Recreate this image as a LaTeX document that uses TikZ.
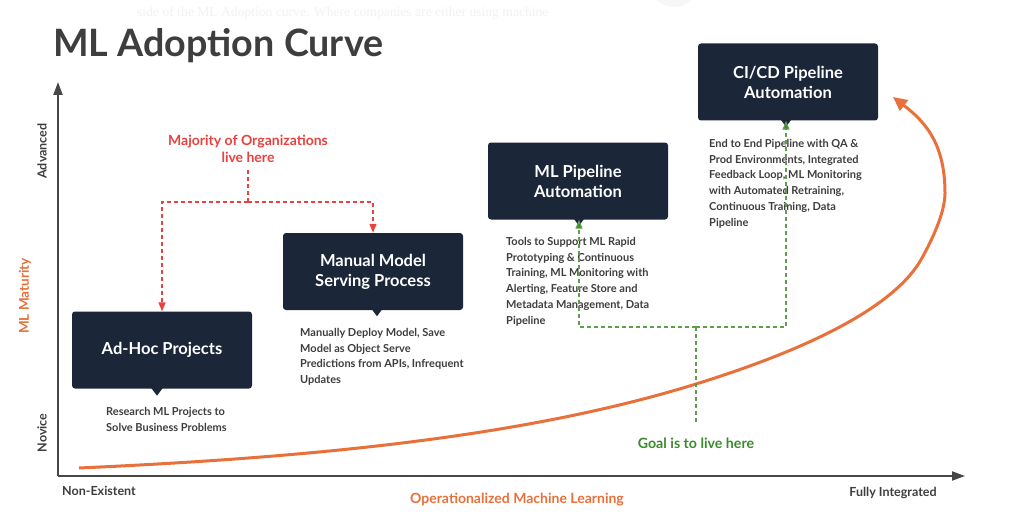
\documentclass[tikz,border=0pt]{standalone}
\usepackage{fontspec}
\setmainfont{Lato}
\newfontfamily\fadedserif{Liberation Serif}
\usetikzlibrary{arrows.meta}
\definecolor{navy}{HTML}{1B2638}
\definecolor{txtgray}{HTML}{3E3E3E}
\definecolor{axisgray}{HTML}{474747}
\definecolor{curveorange}{HTML}{E8703A}
\definecolor{redlbl}{HTML}{E8423F}
\definecolor{greenline}{HTML}{5E9E4E}
\definecolor{greentxt}{HTML}{3C8A2E}
\begin{document}
\begin{tikzpicture}[x=1pt,y=-1pt,
  stagebox/.style={fill=navy, rounded corners=3pt, minimum width=180pt, minimum height=77pt,
    text=white, font=\bfseries\fontsize{16.5}{20}\selectfont, align=center, inner sep=0pt},
  desc/.style={anchor=north west, inner sep=0pt, align=left, text=txtgray,
    font=\bfseries\fontsize{11}{15.8}\selectfont},
  axislbl/.style={inner sep=0pt, text=txtgray, font=\bfseries\fontsize{12.5}{15}\selectfont},
  orangelbl/.style={inner sep=0pt, text=curveorange, font=\bfseries\fontsize{14}{16}\selectfont},
  axisline/.style={draw=axisgray, line width=2pt, -{Triangle[length=13pt,width=9pt]}},
  reddash/.style={draw=redlbl, line width=1.2pt, dash pattern=on 4pt off 3pt},
  greendash/.style={draw=greenline, line width=1.2pt, dash pattern=on 4pt off 3pt},
  redtip/.style={-{Triangle[length=9pt,width=7pt]}},
  greentip/.style={-{Triangle[length=9pt,width=7pt,fill=greentxt]}},
  pointer/.style={fill=navy}
]
\useasboundingbox (0,0) rectangle (1022,516);
\fill[white] (0,0) rectangle (1022,516);

% faint artifacts at the top
\fill[black!3] (674,-18) circle (25);
\node[anchor=west, inner sep=0pt, text=black!5, font=\fadedserif\fontsize{13.6}{16}\selectfont] (faded) at (137,13)
  {side of the ML Adoption curve. Where companies are either using machine};

% title
\node[anchor=west, inner sep=0pt, text=txtgray, font=\bfseries\fontsize{37.7}{42}\selectfont] (title) at (53,46) {ML Adoption Curve};

% axes
\coordinate (origin) at (58,476);
\coordinate (ytop) at (58,82);
\coordinate (xend) at (965,476);
\draw[axisline] (origin) -- (ytop);
\draw[axisline] (origin) -- (xend);

\node[axislbl, rotate=90] (advanced) at (42,151) {Advanced};
\node[axislbl, rotate=90] (novice) at (42,433) {Novice};
\node[orangelbl, rotate=90, font=\bfseries\fontsize{13.5}{15}\selectfont] (maturity) at (25,296) {ML Maturity};
\node[axislbl, anchor=west] (nonex) at (62,491) {Non-Existent};
\node[axislbl] (fully) at (893,493) {Fully Integrated};
\node[orangelbl] (opml) at (517,500) {Operationalized Machine Learning};

% curve
\draw[curveorange, line width=3pt, -{Triangle[length=14pt,width=13pt]}]
  (79,468) .. controls (300,458) and (520,438.6) .. (696,384)
  .. controls (796,353) and (893.2,310.6) .. (922,258)
  .. controls (931.6,240.5) and (945,213) .. (945,193)
  .. controls (945,143) and (924.6,121.4) .. (893,97);

% stage boxes
\node[stagebox] (adhoc) at (162,350) {Ad-Hoc Projects};
\node[stagebox] (manual) at (373,271.5) {Manual Model\\Serving Process};
\node[stagebox] (mlp) at (578,181) {ML Pipeline\\Automation};
\node[stagebox] (cicd) at (788,82) {CI/CD Pipeline\\Automation};

\coordinate (adhoctip) at ([xshift=-5pt,yshift=-7pt]adhoc.south);
\coordinate (manualtip) at ([xshift=4pt,yshift=-6pt]manual.south);
\coordinate (mlptip) at ([xshift=1pt,yshift=-6pt]mlp.south);
\coordinate (cicdtip) at ([xshift=-2pt,yshift=-6pt]cicd.south);
\fill[pointer] (adhoctip) -- ++(-6,-8) -- ++(12,0) -- cycle;
\fill[pointer] (manualtip) -- ++(-6,-8) -- ++(12,0) -- cycle;
\fill[pointer] (mlptip) -- ++(-6,-8) -- ++(12,0) -- cycle;
\fill[pointer] (cicdtip) -- ++(-6,-8) -- ++(12,0) -- cycle;

% descriptions
\node[desc] (adhocdesc) at (106,407) {Research ML Projects to\\Solve Business Problems};
\node[desc] (manualdesc) at (300,328) {Manually Deploy Model, Save\\Model as Object Serve\\Predictions from APIs, Infrequent\\Updates};
\node[desc] (mlpdesc) at (506,237) {Tools to Support ML Rapid\\Prototyping \& Continuous\\Training, ML Monitoring with\\Alerting, Feature Store and\\Metadata Management, Data\\Pipeline};
\node[desc] (cicddesc) at (709,139) {End to End Pipeline with QA \&\\Prod Environments, Integrated\\Feedback Loop, ML Monitoring\\with Automated Retraining,\\Continuous Training, Data\\Pipeline};

% red callout
\node[align=center, inner sep=0pt, text=redlbl, font=\bfseries\fontsize{14}{17}\selectfont] (majority) at (248,148.5) {Majority of Organizations\\live here};
\coordinate (rsplit) at (248,202);
\draw[reddash] ([yshift=-8pt]majority.south) -- (rsplit);
\draw[reddash, redtip] (rsplit) -| (adhoc.north);
\draw[reddash, redtip] (rsplit) -| (manual.north);

% green callout
\node[inner sep=0pt, text=greentxt, font=\bfseries\fontsize{14.2}{17}\selectfont] (goal) at (696,443.5) {Goal is to live here};
\coordinate (gsplit) at (696,327);
\draw[greendash] ([yshift=16pt]goal.north) -- (gsplit);
\draw[greendash, greentip] (gsplit) -| ([xshift=1pt]mlp.south);
\draw[greendash, greentip] (gsplit) -| ([xshift=-2pt]cicd.south);
\end{tikzpicture}
\end{document}
